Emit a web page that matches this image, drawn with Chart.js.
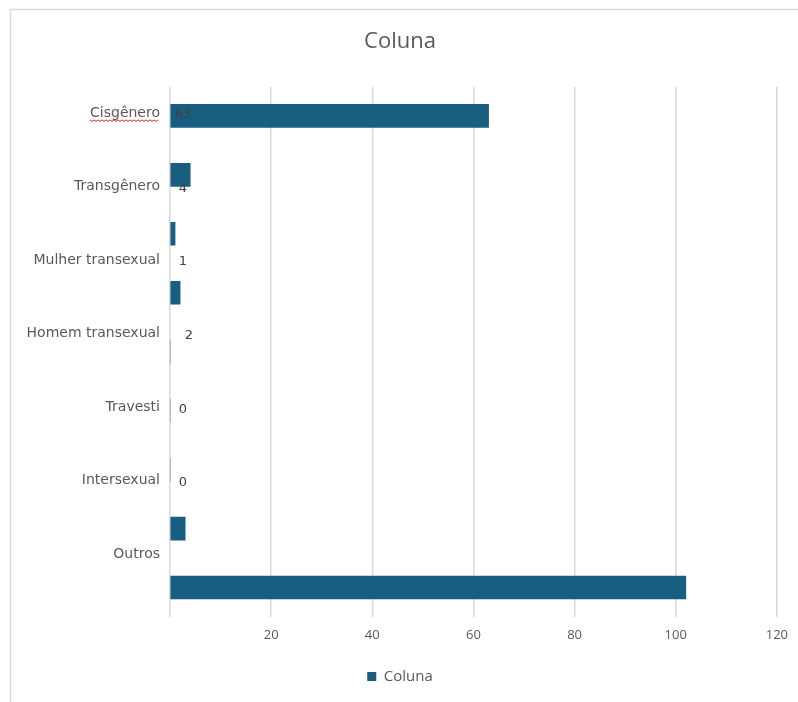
<!DOCTYPE html>
<html>
<head>
<meta charset="utf-8">
<script src="https://cdn.jsdelivr.net/npm/chart.js@4/dist/chart.umd.min.js"></script>
<style>
  body { margin: 0; background: #fff; }
  #wrap { width: 798px; height: 702px; position: relative; }
</style>
</head>
<body>
<div id="wrap"><canvas id="myChart" width="798" height="702"></canvas></div>
<script>
// category labels shown on the left axis
var categories = ['Cisgênero', 'Transgênero', 'Mulher transexual', 'Homem transexual', 'Travesti', 'Intersexual', 'Outros'];
// bar values, one per bar slot (the bars don't line up with the labels in the original)
var barValues = [63, 4, 1, 2, 0, 0, 0, 3, 102];
// value labels printed next to the category labels
var labelValues = [63, 4, 1, 2, 0, 0, null];
var xTicks = [0, 20, 40, 60, 80, 100, 120];

var FONT = "'Open Sans', sans-serif";
var LFONT = "'DejaVu Sans', sans-serif";
var GREY = '#595959';
var BAR = '#185e80';

var frame = {
    id: 'frame',
    beforeDraw: function(chart) {
        var c = chart.ctx;
        c.save();
        c.fillStyle = '#fff';
        c.fillRect(0, 0, chart.width, chart.height);
        c.strokeStyle = '#d9d9d9';
        c.lineWidth = 1.5;
        c.beginPath();
        c.moveTo(10.5, 702);
        c.lineTo(10.5, 9.5);
        c.lineTo(798, 9.5);
        c.stroke();
        c.restore();
    }
};

var valueLabels = {
    id: 'valueLabels',
    afterDatasetsDraw: function(chart) {
        var c = chart.ctx;
        var xs = chart.scales.x, ys = chart.scales.y;
        c.save();
        c.font = '13px ' + LFONT;
        c.fillStyle = '#404040';
        c.textAlign = 'center';
        c.textBaseline = 'middle';
        labelValues.forEach(function(v, i) {
            if (v === null) return;
            var off = (v === 2) ? 19 : 13;
            c.fillText(String(v), xs.getPixelForValue(0) + off, ys.getPixelForValue(i) + 2);
        });
        // spell-check squiggle under the first label
        c.font = '14px ' + LFONT;
        var w = c.measureText(categories[0]).width;
        var right = ys.right - 10;
        var y0 = ys.getPixelForValue(0) + 7;
        c.strokeStyle = '#e02020';
        c.lineWidth = 1;
        c.beginPath();
        for (var x = right - w, k = 0; x <= right; x += 2, k++) {
            var yy = y0 + (k % 2 ? 1.5 : 0);
            if (k === 0) c.moveTo(x, yy); else c.lineTo(x, yy);
        }
        c.stroke();
        c.restore();
    }
};

var ctx = document.getElementById('myChart').getContext('2d');
var chart = new Chart(ctx, {
    type: 'bar',
    data: {
        datasets: [{
            label: 'Coluna',
            data: barValues.map(function(v, i) { return { x: v, y: i }; }),
            backgroundColor: BAR,
            borderWidth: 0,
            barThickness: 23,
            yAxisID: 'yBar'
        }]
    },
    options: {
        responsive: false,
        animation: false,
        indexAxis: 'y',
        layout: { padding: { left: 23, right: 21, top: 20, bottom: 8 } },
        scales: {
            x: {
                type: 'linear',
                min: 0,
                max: 120,
                afterBuildTicks: function(s) { s.ticks = xTicks.map(function(v) { return { value: v }; }); },
                ticks: {
                    color: GREY,
                    font: { family: FONT, size: 13 },
                    padding: 10,
                    maxRotation: 0,
                    callback: function(v) { return v === 0 ? '' : v; }
                },
                grid: { color: '#d9d9d9', lineWidth: 1.5, drawTicks: false },
                border: { display: false },
                afterFit: function(s) { s.height = 42; }
            },
            y: {
                type: 'linear',
                position: 'left',
                reverse: true,
                offset: false,
                min: -0.36,
                max: 6.85,
                afterBuildTicks: function(s) { s.ticks = categories.map(function(c, i) { return { value: i }; }); },
                ticks: {
                    color: GREY,
                    font: { family: LFONT, size: 14 },
                    padding: 10,
                    callback: function(v) { return categories[v]; }
                },
                grid: { display: false, drawTicks: false, offset: false },
                border: { display: false },
                afterFit: function(s) { s.width = 147; }
            },
            yBar: {
                type: 'linear',
                display: false,
                reverse: true,
                offset: false,
                grid: { offset: false },
                min: -0.5,
                max: 8.5
            }
        },
        plugins: {
            title: {
                display: true,
                text: 'Coluna',
                color: GREY,
                font: { family: FONT, size: 22, weight: 'normal' },
                padding: { top: 9, bottom: 31 }
            },
            legend: {
                position: 'bottom',
                labels: {
                    color: GREY,
                    font: { family: FONT, size: 15 },
                    boxWidth: 9,
                    boxHeight: 9,
                    padding: 10
                }
            },
            tooltip: { enabled: false }
        }
    },
    plugins: [frame, valueLabels]
});
</script>
</body>
</html>
